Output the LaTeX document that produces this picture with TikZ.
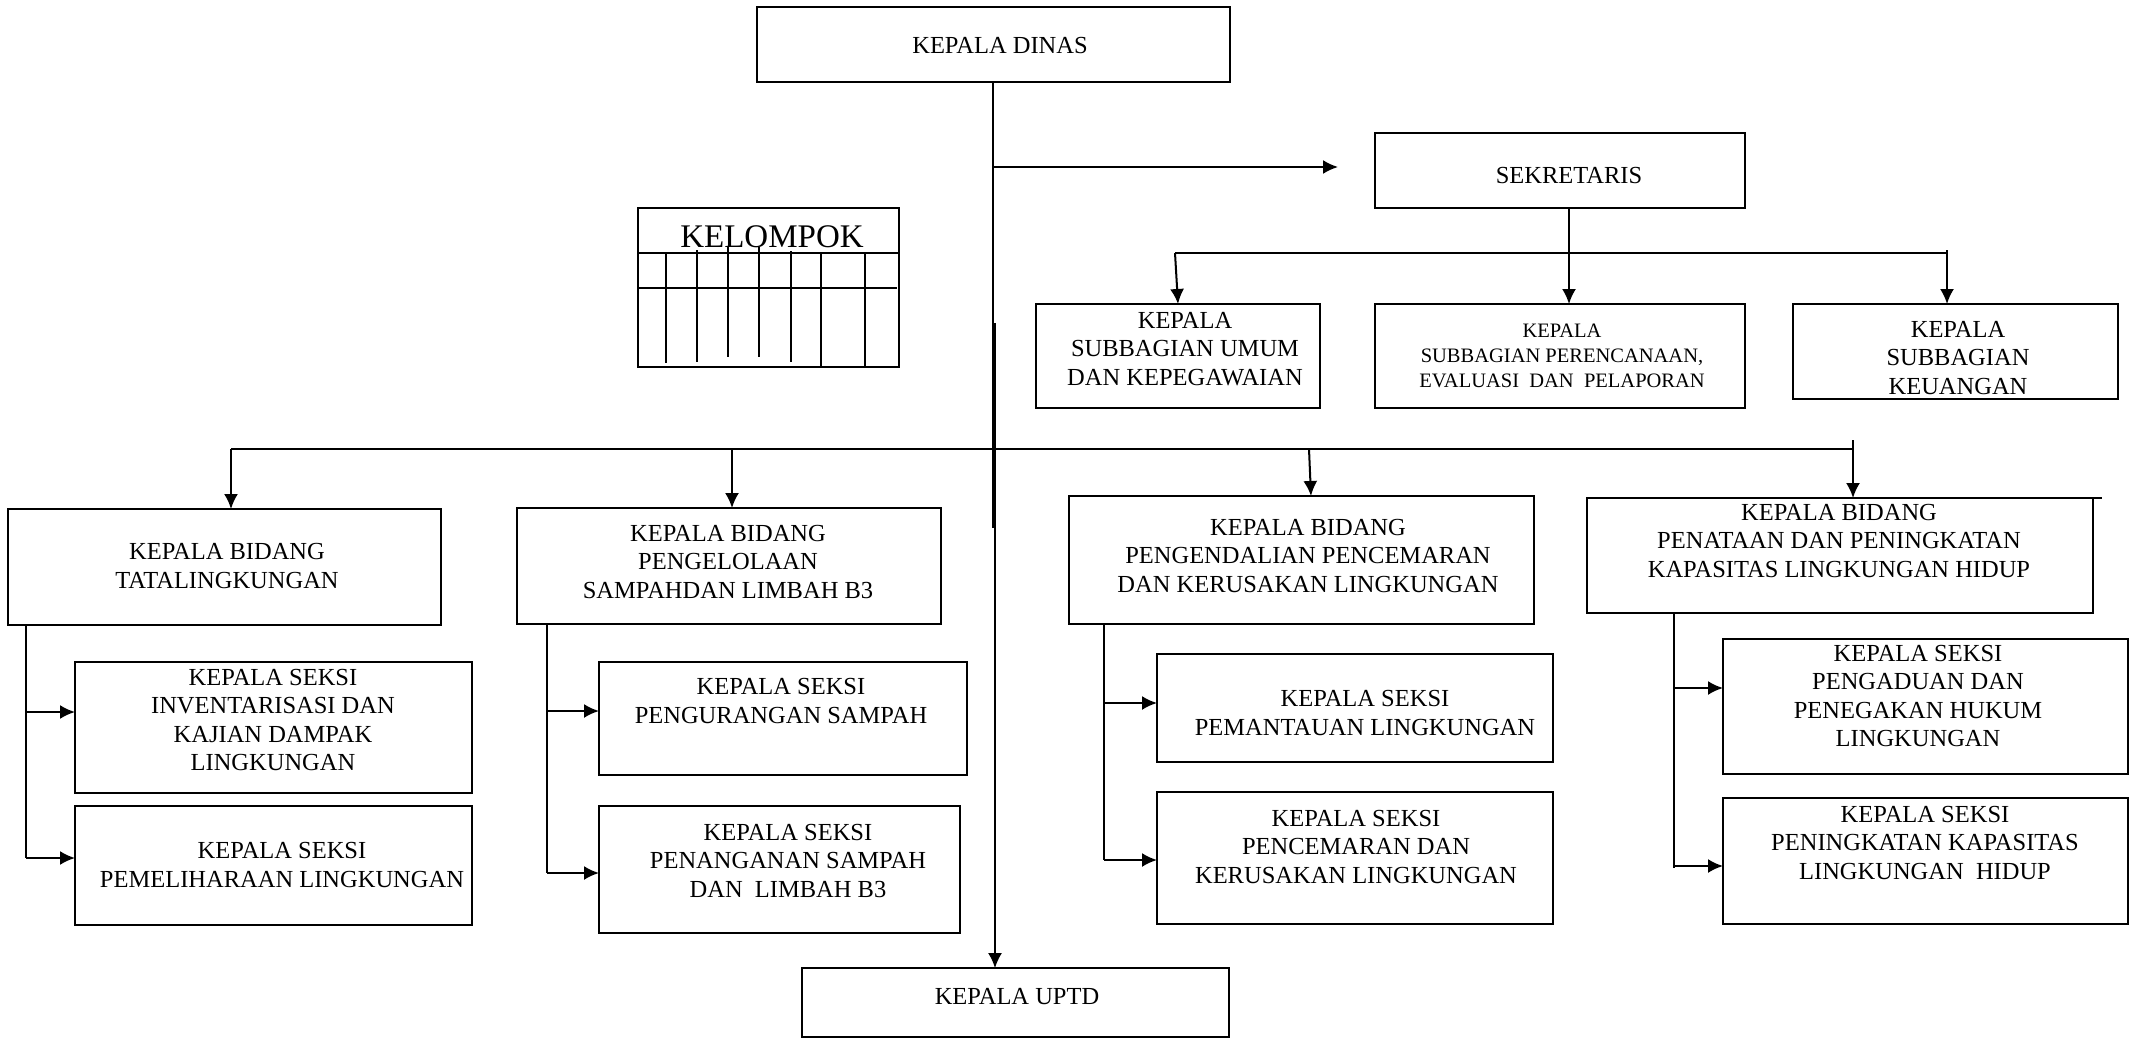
\documentclass[tikz,border=0pt]{standalone}
\usepackage{fontspec}
\setmainfont{Liberation Serif}
\usetikzlibrary{arrows.meta}
\newcommand\fnorm{\fontsize{24.5}{28.5}\selectfont}
\newcommand\fsmall{\fontsize{20.5}{25}\selectfont}
\newcommand\fbig{\fontsize{33}{36}\selectfont}
\newcommand\mybox[5]{\node[box, minimum width={(#4-#2)*1pt}, minimum height={(#5-#3)*1pt}] (#1) at ({(#2+#4)/2},{(#3+#5)/2}) {};}
\tikzset{
  box/.style={draw, line width=2pt, inner sep=0pt, outer sep=0pt},
  txt/.style={align=center, inner sep=0pt, font=\fnorm},
  conn/.style={line width=2pt},
  arr/.style={line width=2pt, -{Latex[length=15pt,width=14pt]}},
  grid/.style={line width=2pt}
}
\begin{document}
\begin{tikzpicture}[x=1pt,y=-1pt]
\fill[white] (0,0) rectangle (2134,1038);
\useasboundingbox (0,0) rectangle (2134,1038);

% boxes
\mybox{kd}{757}{7}{1230}{82}
\mybox{sek}{1375}{133}{1745}{208}
\mybox{umum}{1036}{304}{1320}{408}
\mybox{renc}{1375}{304}{1745}{408}
\mybox{keu}{1793}{304}{2118}{399}
\mybox{kel}{638}{208}{899}{367}
\mybox{tata}{8}{509}{441}{625}
\mybox{olah}{517}{508}{941}{624}
\mybox{kend}{1069}{496}{1534}{624}
\mybox{tat}{1587}{498}{2093}{613}
\mybox{inv}{75}{662}{472}{793}
\mybox{pem}{75}{806}{472}{925}
\mybox{kur}{599}{662}{967}{775}
\mybox{tan}{599}{806}{960}{933}
\mybox{pant}{1157}{654}{1553}{762}
\mybox{cem}{1157}{792}{1553}{924}
\mybox{adu}{1723}{639}{2128}{774}
\mybox{ting}{1723}{798}{2128}{924}
\mybox{uptd}{802}{968}{1229}{1037}
\draw[line width=2pt] (tat.north east) -- ++(9,0);

% texts
\node[txt] (tkd) at (1000,46) {KEPALA DINAS};
\node[txt] (tsek) at (1569,176) {SEKRETARIS};
\node[txt] (tumum) at (1185,349) {KEPALA\\SUBBAGIAN UMUM\\DAN KEPEGAWAIAN};
\node[txt,font=\fsmall] (trenc) at (1562,356) {KEPALA\\SUBBAGIAN PERENCANAAN,\\EVALUASI\ \ DAN\ \ PELAPORAN};
\node[txt] (tkeu) at (1958,358) {KEPALA\\SUBBAGIAN\\KEUANGAN};
\node[txt,font=\fbig] (tkel) at (772,237) {KELOMPOK};
\node[txt] (ttata) at (227,566) {KEPALA BIDANG\\TATALINGKUNGAN};
\node[txt] (tolah) at (728,562) {KEPALA BIDANG\\PENGELOLAAN\\SAMPAHDAN LIMBAH B3};
\node[txt] (tkend) at (1308,556) {KEPALA BIDANG\\PENGENDALIAN PENCEMARAN\\DAN KERUSAKAN LINGKUNGAN};
\node[txt] (ttat) at (1839,541) {KEPALA BIDANG\\PENATAAN DAN PENINGKATAN\\KAPASITAS LINGKUNGAN HIDUP};
\node[txt] (tinv) at (273,720) {KEPALA SEKSI\\INVENTARISASI DAN\\KAJIAN DAMPAK\\LINGKUNGAN};
\node[txt] (tpem) at (282,865) {KEPALA SEKSI\\PEMELIHARAAN LINGKUNGAN};
\node[txt] (tkur) at (781,701) {KEPALA SEKSI\\PENGURANGAN SAMPAH};
\node[txt] (ttan) at (788,861) {KEPALA SEKSI\\PENANGANAN SAMPAH\\DAN\ \ LIMBAH B3};
\node[txt] (tpant) at (1365,713) {KEPALA SEKSI\\PEMANTAUAN LINGKUNGAN};
\node[txt] (tcem) at (1356,847) {KEPALA SEKSI\\PENCEMARAN DAN\\KERUSAKAN LINGKUNGAN};
\node[txt] (tadu) at (1918,696) {KEPALA SEKSI\\PENGADUAN DAN\\PENEGAKAN HUKUM\\LINGKUNGAN};
\node[txt] (tting) at (1925,843) {KEPALA SEKSI\\PENINGKATAN KAPASITAS\\LINGKUNGAN\ \ HIDUP};
\node[txt] (tuptd) at (1017,997) {KEPALA UPTD};

% KELOMPOK grid
\draw[grid] (kel.west |- 0,253) -- (kel.east |- 0,253);
\draw[grid] (637,288) -- (897,288);
\draw[grid] (666,252) -- (666,363);
\draw[grid] (697,250) -- (697,362);
\draw[grid] (728,247) -- (728,357);
\draw[grid] (759,247) -- (759,357);
\draw[grid] (791,251) -- (791,362);
\draw[grid] (821,253) -- (821,367);
\draw[grid] (865,253) -- (865,367);

% coordinates
\coordinate (m1) at (993,528);
\coordinate (m2) at (995,323);
\coordinate (ms) at (993,167);
\coordinate (se) at (1338,167);
\coordinate (s0) at (1569,208);
\coordinate (sl) at (1175,253);
\coordinate (sr) at (1947,253);
\coordinate (srt) at (1947,250);
\coordinate (bl) at (231,449);
\coordinate (br) at (1853,449);
\coordinate (brt) at (1853,440);
\coordinate (b2) at (732,449);
\coordinate (b3) at (1309,449);

% main lines
\draw[conn] (kd.south -| m1) -- (m1);
\draw[line width=1.6pt, -{Latex[length=15pt,width=14pt]}] (m2) -- (m2 |- uptd.north);
\draw[arr] (ms) -- (se);

% sekretaris
\draw[arr] (s0) -- (s0 |- renc.north);
\draw[conn] (sl) -- (sr);
\draw[arr] (sl) -- (1178,304);
\draw[arr] (srt) -- (srt |- keu.north);

% bidang
\draw[conn] (bl) -- (br);
\draw[arr] (bl) -- (bl |- tata.north);
\draw[arr] (b2) -- (b2 |- olah.north);
\draw[arr] (b3) -- (1311,496);
\draw[arr] (brt) -- (brt |- tat.north);

% column 1
\draw[conn] (26,625) -- (26,858);
\draw[arr] (26,712) -- (inv.west |- 0,712);
\draw[arr] (26,858) -- (pem.west |- 0,858);
% column 2
\draw[conn] (547,624) -- (547,873);
\draw[arr] (547,711) -- (kur.west |- 0,711);
\draw[arr] (547,873) -- (tan.west |- 0,873);
% column 3
\draw[conn] (1104,624) -- (1104,860);
\draw[arr] (1104,703) -- (pant.west |- 0,703);
\draw[arr] (1104,860) -- (cem.west |- 0,860);
% column 4
\draw[conn] (1674,612) -- (1674,868);
\draw[arr] (1674,688) -- (adu.west |- 0,688);
\draw[arr] (1674,866) -- (ting.west |- 0,866);
\end{tikzpicture}
\end{document}
